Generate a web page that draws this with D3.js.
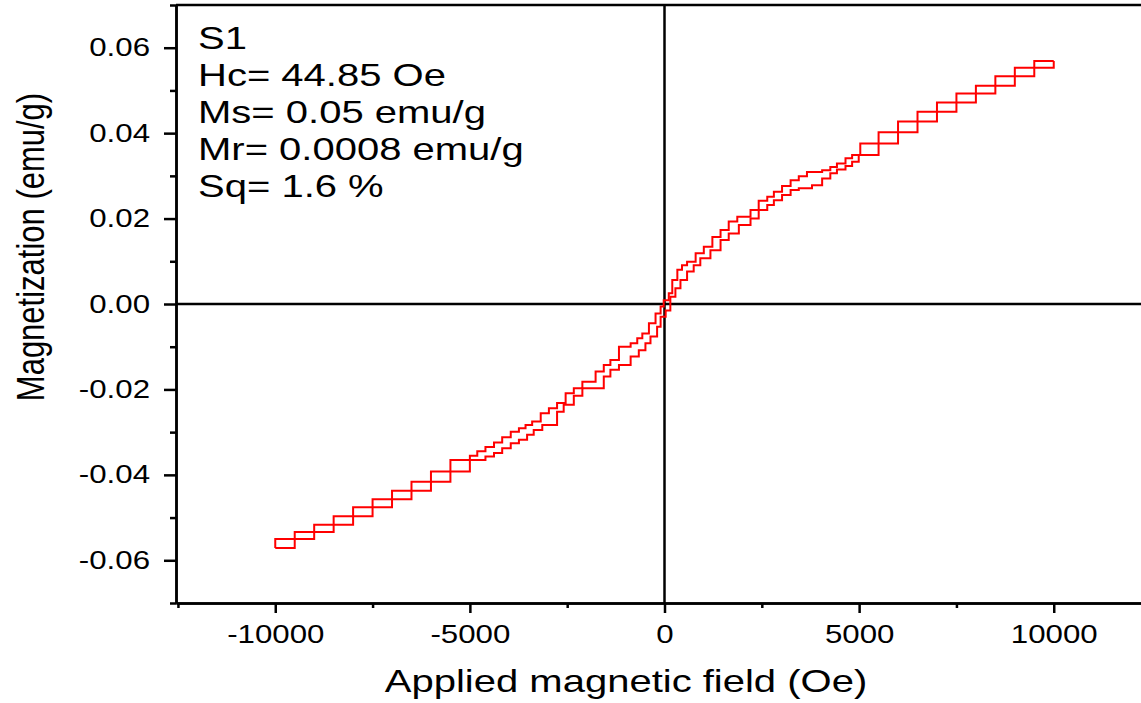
<!DOCTYPE html>
<html>
<head>
<meta charset="utf-8">
<script src="https://cdn.jsdelivr.net/npm/d3@7"></script>
<style>
  body { margin: 0; background: #fff; }
  svg { display: block; font-family: "Liberation Sans", Arial, sans-serif; }
</style>
</head>
<body>
<svg id="chart" width="1141" height="703"></svg>
<script>
// hysteresis loop (H in Oe, M in emu/g)
var upperH = [-10000, -10000, -9000, -8000, -7000, -6000, -5000, -4810, -4600, -4380, -4170, -3950,
    -3740, -3570, -3400, -3180, -2970, -2760, -2540, -2330, -2110, -1770, -1560, -1390, -1170, -870,
    -700, -570, -400, -230, -100, -20, 110, 200, 330, 450, 580, 800, 1010, 1230, 1440, 1650, 1870,
    2210, 2420, 2640, 2810, 3020, 3240, 3450, 3660, 4050, 4260, 4430, 4650, 4820, 5030, 6000, 7000,
    8000, 9000, 10000];
var upperM = [-0.0571, -0.0550, -0.0517, -0.0476, -0.0437, -0.0392, -0.0355, -0.0345, -0.0335, -0.0324,
    -0.0312, -0.0299, -0.0291, -0.0283, -0.0275, -0.0256, -0.0244, -0.0232, -0.0209, -0.0197, -0.0182,
    -0.0158, -0.0143, -0.0131, -0.0100, -0.0092, -0.0080, -0.0069, -0.0045, -0.0022, -0.0006, 0.0009,
    0.0025, 0.0056, 0.0080, 0.0091, 0.0099, 0.0119, 0.0134, 0.0157, 0.0173, 0.0193, 0.0204, 0.0220,
    0.0242, 0.0251, 0.0263, 0.0276, 0.0290, 0.0299, 0.0309, 0.0313, 0.0321, 0.0329, 0.0341, 0.0349,
    0.0376, 0.0427, 0.0472, 0.0511, 0.0553, 0.0569];

var lowerH = [-10000, -9500, -8500, -7500, -6500, -5500, -4600, -4380, -4170, -3950, -3740, -3530,
    -3360, -3140, -2760, -2590, -2330, -2110, -1560, -1390, -1170, -870, -660, -490, -360, -190, -100,
    30, 150, 280, 410, 580, 750, 920, 1180, 1440, 1650, 1910, 2210, 2420, 2640, 2810, 3020, 3240,
    3450, 3790, 4050, 4260, 4430, 4650, 4820, 4990, 5500, 6500, 7500, 8500, 9500, 10000];
var lowerM = [-0.0571, -0.0534, -0.0497, -0.0457, -0.0416, -0.0365, -0.0357, -0.0349, -0.0338, -0.0326,
    -0.0318, -0.0306, -0.0295, -0.0283, -0.0252, -0.0236, -0.0215, -0.0197, -0.0170, -0.0154, -0.0143,
    -0.0123, -0.0108, -0.0092, -0.0076, -0.0053, -0.0030, -0.0015, 0.0017, 0.0037, 0.0056, 0.0076,
    0.0091, 0.0107, 0.0126, 0.0150, 0.0165, 0.0185, 0.0200, 0.0220, 0.0232, 0.0243, 0.0255, 0.0267,
    0.0271, 0.0278, 0.0294, 0.0306, 0.0315, 0.0323, 0.0333, 0.0349, 0.0402, 0.0450, 0.0493, 0.0533,
    0.0569, 0.0569];

var fieldTicks = [-10000, -5000, 0, 5000, 10000];
var fieldTickLabels = ["-10000", "-5000", "0", "5000", "10000"];
var fieldMinorTicks = [-12500, -7500, -2500, 2500, 7500, 12500];
var magTicks = [-0.06, -0.04, -0.02, 0, 0.02, 0.04, 0.06];
var magTickLabels = ["-0.06", "-0.04", "-0.02", "0.00", "0.02", "0.04", "0.06"];
var magMinorTicks = [-0.07, -0.05, -0.03, -0.01, 0.01, 0.03, 0.05, 0.07];

var noteLines = ["S1", "Hc= 44.85 Oe", "Ms= 0.05 emu/g", "Mr= 0.0008 emu/g", "Sq= 1.6 %"];
var xTitle = "Applied magnetic field (Oe)";
var yTitle = "Magnetization (emu/g)";

// the original picture is stretched sideways, text too
var SX = 1.25;

var svg = d3.select("#chart");

var x = d3.scaleLinear().domain([-12550, 12550]).range([176, 1153]);
var y = d3.scaleLinear().domain([-0.07, 0.07]).range([603, 5]);

function stretch(sel) {
    sel.each(function() {
        var t = d3.select(this);
        var x0 = +(t.attr("x") || 0);
        t.attr("x", x0 / SX).attr("transform", "scale(" + SX + ",1)");
    });
}

// zero lines
svg.append("line")
    .attr("x1", x(0)).attr("x2", x(0))
    .attr("y1", y.range()[1]).attr("y2", y.range()[0])
    .attr("stroke", "#000").attr("stroke-width", 2.5);
svg.append("line")
    .attr("x1", x.range()[0]).attr("x2", x.range()[1])
    .attr("y1", y(0)).attr("y2", y(0))
    .attr("stroke", "#000").attr("stroke-width", 2.5);

// top border
svg.append("line")
    .attr("x1", x.range()[0]).attr("x2", x.range()[1])
    .attr("y1", y.range()[1]).attr("y2", y.range()[1])
    .attr("stroke", "#000").attr("stroke-width", 2.5);

// loop branches
var line = d3.line()
    .x(function(d) { return x(d[0]); })
    .y(function(d) { return y(d[1]); })
    .curve(d3.curveStepAfter);

[d3.zip(upperH, upperM), d3.zip(lowerH, lowerM)].forEach(function(branch) {
    svg.append("path")
        .datum(branch)
        .attr("d", line)
        .attr("fill", "none")
        .attr("stroke", "#ff0000")
        .attr("stroke-width", 2);
});

// axes
svg.append("g")
    .attr("transform", "translate(0," + y.range()[0] + ")")
    .call(d3.axisBottom(x).tickValues(fieldTicks)
        .tickFormat(function(d, i) { return fieldTickLabels[i]; })
        .tickSize(10).tickSizeOuter(0).tickPadding(12));
svg.append("g")
    .attr("transform", "translate(0," + y.range()[0] + ")")
    .call(d3.axisBottom(x).tickValues(fieldMinorTicks).tickFormat("").tickSize(5).tickSizeOuter(0));

svg.append("g")
    .attr("transform", "translate(" + x.range()[0] + ",0)")
    .call(d3.axisLeft(y).tickValues(magTicks)
        .tickFormat(function(d, i) { return magTickLabels[i]; })
        .tickSize(12).tickSizeOuter(0).tickPadding(14));
svg.append("g")
    .attr("transform", "translate(" + x.range()[0] + ",0)")
    .call(d3.axisLeft(y).tickValues(magMinorTicks).tickFormat("").tickSize(6).tickSizeOuter(0));

svg.selectAll(".domain, .tick line").attr("stroke", "#000").attr("stroke-width", 2.5);
svg.selectAll(".tick text")
    .attr("font-family", "Liberation Sans, Arial, sans-serif")
    .attr("font-size", 25)
    .attr("fill", "#000")
    .call(stretch);

// axis titles
svg.append("text")
    .attr("transform", "translate(626,692) scale(" + SX + ",1)")
    .attr("text-anchor", "middle")
    .attr("font-size", 32)
    .text(xTitle);

svg.append("text")
    .attr("transform", "translate(44,247) rotate(-90) scale(1," + SX + ")")
    .attr("text-anchor", "middle")
    .attr("font-size", 31)
    .text(yTitle);

// sample note, top left
var note = svg.append("g")
    .attr("transform", "translate(198,49) scale(" + SX + ",1)");
note.selectAll("text")
    .data(noteLines)
    .enter().append("text")
    .attr("y", function(d, i) { return i * 37; })
    .attr("font-size", 32)
    .text(function(d) { return d; });
</script>
</body>
</html>
